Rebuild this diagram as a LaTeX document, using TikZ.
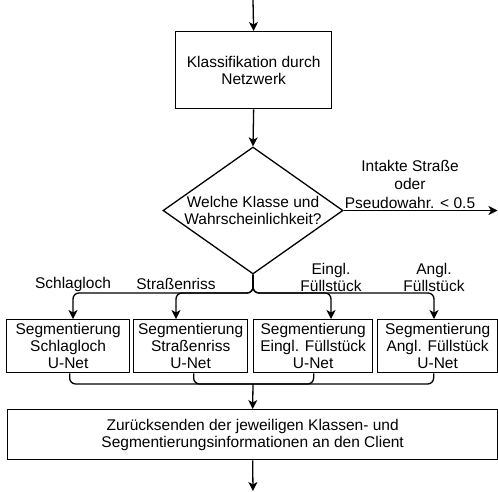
\documentclass[tikz,border=0pt]{standalone}
\usepackage{fontspec}
\setmainfont{Liberation Sans}
\usetikzlibrary{arrows.meta,shapes.geometric,calc}

\begin{document}
\begin{tikzpicture}[x=1pt,y=-1pt,
  font=\fontsize{15.5}{17}\selectfont,
  line width=1.3pt,
  arr/.style={-{Stealth[length=9pt,width=9pt,inset=2.5pt]}},
  box/.style={draw, rectangle, inner sep=0pt, align=center, anchor=north west},
  lbl/.style={align=center, inner sep=0pt},
  branch/.style={rounded corners=6pt}]

\useasboundingbox (0,0) rectangle (498,491);

% main flow boxes
\node[box, minimum width=156pt, minimum height=77pt] (klass) at (175,31)
  {Klassifikation durch\\Netzwerk};
\node[diamond, draw, inner sep=0pt, minimum width=180pt, minimum height=127pt] (dec) at (253,210.5) {};
\node[lbl] (dectext) at (dec) {Welche Klasse und\\Wahrscheinlichkeit?};

% segmentation boxes
\node[box, minimum width=123pt, minimum height=53pt] (seg1) at (6,319)
  {Segmentierung\\Schlagloch\\U-Net};
\node[box, minimum width=114pt, minimum height=53pt] (seg2) at (133,319)
  {Segmentierung\\Straßenriss\\U-Net};
\node[box, minimum width=119pt, minimum height=53pt] (seg3) at (253,319)
  {Segmentierung\\Eingl. Füllstück\\U-Net};
\node[box, minimum width=120pt, minimum height=53pt] (seg4) at (377,319)
  {Segmentierung\\Angl. Füllstück\\U-Net};

\node[box, minimum width=490pt, minimum height=50pt] (result) at (7,409)
  {Zurücksenden der jeweiligen Klassen- und\\Segmentierungsinformationen an den Client};

% branch labels
\node[lbl] (lab1) at (73,284) {Schlagloch};
\node[lbl] (lab2) at (176,284) {Straßenriss};
\node[lbl] (lab3) at (331,277) {Eingl.\\Füllstück};
\node[lbl] (lab4) at (434,277) {Angl.\\Füllstück};
\node[lbl, font=\fontsize{15.5}{18.5}\selectfont] (exitlab) at (410,184)
  {Intakte Straße\\oder\\Pseudowahr. < 0.5};

% helper points
\coordinate (start) at (253,0);
\coordinate (split) at (253,293);
\coordinate (merge) at (253,384);
\coordinate (exit) at (497.5,210.5);
\coordinate (finish) at (253,491);

% connectors
\draw[arr] (start) -- (klass.north);
\draw[arr] (klass.south) -- (dec.north);
\draw[arr] (dec.east) -- (exit);
\foreach \l/\s in {lab1/seg1, lab2/seg2, lab3/seg3, lab4/seg4}
  \draw[arr, branch] (dec.south) |- (\l |- split) -- (\l |- \s.north);

\draw[branch] ($(seg1.south)+(1.5,0)$) |- (merge);
\draw[branch] ($(seg2.south)+(3,0)$) |- (merge);
\draw[branch] ($(seg3.south)+(0.5,0)$) |- (merge);
\draw[branch] ($(seg4.south)+(-4,0)$) |- (merge);
\draw[arr] (merge) -- (result.north);
\draw[arr] (result.south) -- (finish);

\end{tikzpicture}
\end{document}
